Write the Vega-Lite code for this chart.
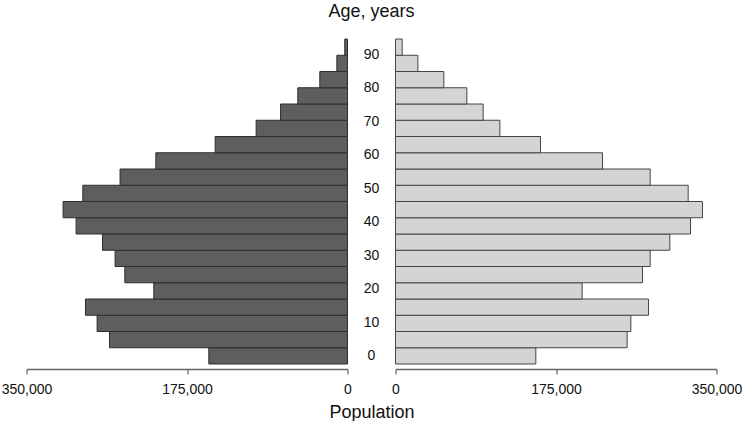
{
  "$schema": "https://vega.github.io/schema/vega-lite/v6.json",
  "background": "white",
  "padding": {"left": 0.5, "top": 2, "right": 0, "bottom": 0},
  "bounds": "flush",
  "spacing": 0,
  "title": {"text": "Age, years", "fontSize": 18, "fontWeight": "normal", "color": "#111111", "anchor": "middle", "offset": 13.5},
  "config": {
    "font": "Liberation Sans",
    "view": {"stroke": null},
    "axis": {"grid": false, "labelFlush": false, "labelFontSize": 14, "labelColor": "#111111", "domainColor": "#666666", "domainWidth": 1.5, "tickColor": "#666666", "tickWidth": 1.2, "tickSize": 5, "labelPadding": 8}
  },
  "datasets": {
    "pop": [
      {"lo": 0, "hi": 5, "male": 151200, "female": 153000},
      {"lo": 5, "hi": 10, "male": 259500, "female": 252600},
      {"lo": 10, "hi": 15, "male": 273000, "female": 256600},
      {"lo": 15, "hi": 20, "male": 285700, "female": 275900},
      {"lo": 20, "hi": 25, "male": 211200, "female": 203500},
      {"lo": 25, "hi": 30, "male": 242800, "female": 269300},
      {"lo": 30, "hi": 35, "male": 253400, "female": 277700},
      {"lo": 35, "hi": 40, "male": 267100, "female": 299100},
      {"lo": 40, "hi": 45, "male": 295900, "female": 321700},
      {"lo": 45, "hi": 50, "male": 310100, "female": 334700},
      {"lo": 50, "hi": 55, "male": 288600, "female": 319100},
      {"lo": 55, "hi": 60, "male": 248000, "female": 277700},
      {"lo": 60, "hi": 65, "male": 209000, "female": 225700},
      {"lo": 65, "hi": 70, "male": 144300, "female": 158100},
      {"lo": 70, "hi": 75, "male": 99600, "female": 113800},
      {"lo": 75, "hi": 80, "male": 73000, "female": 95600},
      {"lo": 80, "hi": 85, "male": 54200, "female": 77800},
      {"lo": 85, "hi": 90, "male": 30200, "female": 52700},
      {"lo": 90, "hi": 95, "male": 11600, "female": 24400},
      {"lo": 95, "hi": 100, "male": 3000, "female": 7300}
    ],
    "ages": [
      {"age": 0}, {"age": 10}, {"age": 20}, {"age": 30}, {"age": 40},
      {"age": 50}, {"age": 60}, {"age": 70}, {"age": 80}, {"age": 90}
    ]
  },
  "hconcat": [
    {
      "width": 321,
      "height": 335,
      "data": {"name": "pop"},
      "mark": {"type": "bar", "orient": "horizontal", "fill": "#5e5e5e", "stroke": "#2e2e2e", "strokeWidth": 1},
      "encoding": {
        "y": {"field": "lo", "type": "quantitative", "scale": {"domain": [0, 100], "nice": false}, "axis": null},
        "y2": {"field": "hi"},
        "x": {"field": "male", "type": "quantitative", "scale": {"domain": [0, 350000], "reverse": true, "nice": false}, "axis": {"values": [0, 175000, 350000], "format": ",.0f", "title": null}},
        "x2": {"datum": 0}
      }
    },
    {
      "width": 48,
      "height": 335,
      "data": {"name": "ages"},
      "mark": {"type": "text", "fontSize": 14, "dy": -13, "color": "#111111"},
      "encoding": {
        "y": {"field": "age", "type": "quantitative", "scale": {"domain": [0, 100], "nice": false}, "axis": null},
        "x": {"datum": 0, "type": "quantitative", "scale": {"domain": [-1, 1]}, "axis": {"title": "Population", "labels": false, "ticks": false, "domain": false, "titleFontSize": 18, "titleFontWeight": "normal", "titleColor": "#111111", "titlePadding": 34}},
        "text": {"field": "age", "type": "quantitative"}
      }
    },
    {
      "width": 321,
      "height": 335,
      "data": {"name": "pop"},
      "mark": {"type": "bar", "orient": "horizontal", "fill": "#d4d4d4", "stroke": "#444444", "strokeWidth": 1},
      "encoding": {
        "y": {"field": "lo", "type": "quantitative", "scale": {"domain": [0, 100], "nice": false}, "axis": null},
        "y2": {"field": "hi"},
        "x": {"field": "female", "type": "quantitative", "scale": {"domain": [0, 350000], "nice": false}, "axis": {"values": [0, 175000, 350000], "format": ",.0f", "title": null}},
        "x2": {"datum": 0}
      }
    }
  ]
}
